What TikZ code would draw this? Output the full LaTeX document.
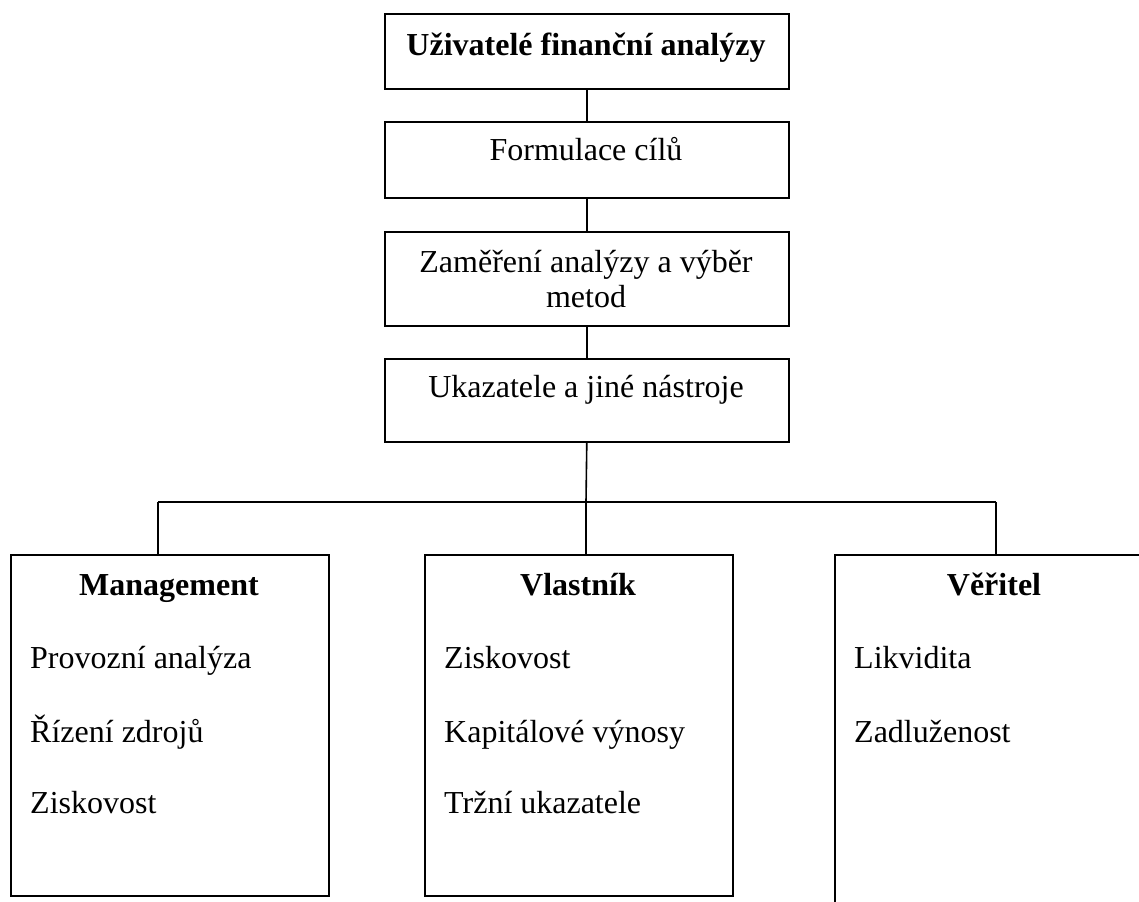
\documentclass[tikz,border=0pt]{standalone}
\usepackage{fontspec}
\setmainfont{Liberation Serif}
\begin{document}
\begin{tikzpicture}[x=1bp,y=-1bp,
  box/.style={draw=black, line width=1.6bp, rectangle, inner sep=0pt, anchor=north west},
  lbl/.style={inner sep=0pt, anchor=base, font=\fontsize{32bp}{36bp}\selectfont},
  itm/.style={inner sep=0pt, anchor=base west, font=\fontsize{32bp}{36bp}\selectfont},
  ttl/.style={inner sep=0pt, anchor=base, font=\fontsize{32bp}{36bp}\selectfont\bfseries},
  conn/.style={draw=black, line width=1.6bp}]
\clip (0,0) rectangle (1139,902);
\fill[white] (0,0) rectangle (1139,902);
% top chain boxes
\node[box, minimum width=404bp, minimum height=75bp] (b1) at (384,13) {};
\node[box, minimum width=404bp, minimum height=76bp] (b2) at (384,121) {};
\node[box, minimum width=404bp, minimum height=94bp] (b3) at (384,231) {};
\node[box, minimum width=404bp, minimum height=83bp] (b4) at (384,358) {};
\node[ttl] (t1) at (586,55) {Uživatelé finanční analýzy};
\node[lbl] (t2) at (586,160) {Formulace cílů};
\node[lbl] (t3a) at (586,272) {Zaměření analýzy a výběr};
\node[lbl] (t3b) at (586,307) {metod};
\node[lbl] (t4) at (586,397) {Ukazatele a jiné nástroje};
% bottom boxes
\node[box, minimum width=318bp, minimum height=341bp] (m) at (10,554) {};
\node[box, minimum width=308bp, minimum height=341bp] (v) at (424,554) {};
\node[box, minimum width=320bp, minimum height=380bp] (r) at (834,554) {};
\node[ttl] (mt) at (169,595) {Management};
\node[itm] (m1) at (30,668) {Provozní analýza};
\node[itm] (m2) at (30,742) {Řízení zdrojů};
\node[itm] (m3) at (30,813) {Ziskovost};
\node[ttl] (vt) at (578,595) {Vlastník};
\node[itm] (v1) at (444,668) {Ziskovost};
\node[itm] (v2) at (444,742) {Kapitálové výnosy};
\node[itm] (v3) at (444,813) {Tržní ukazatele};
\node[ttl] (rt) at (994,595) {Věřitel};
\node[itm] (r1) at (854,668) {Likvidita};
\node[itm] (r2) at (854,742) {Zadluženost};
% connectors
\coordinate (hub) at (586,502);
\coordinate (hl) at (158,502);
\coordinate (hr) at (996,502);
\draw[conn] (b1.south) -- (b2.north);
\draw[conn] (b2.south) -- (b3.north);
\draw[conn] (b3.south) -- (b4.north);
\draw[conn] (b4.south) -- (hub);
\draw[conn] (hl) -- (hr);
\draw[conn] (hl) -- (hl |- m.north);
\draw[conn] (hub) -- (hub |- v.north);
\draw[conn] (hr) -- (hr |- r.north);
\end{tikzpicture}
\end{document}
